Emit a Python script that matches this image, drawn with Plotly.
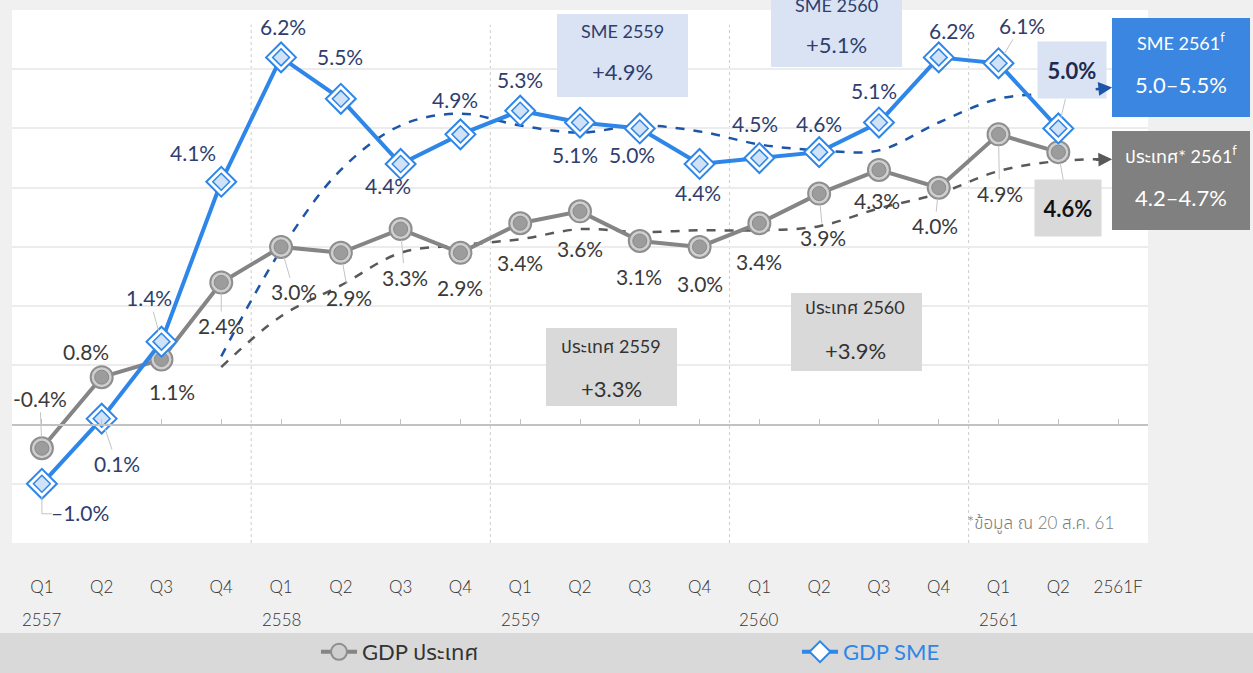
import plotly.graph_objects as go

# ---------------- data ----------------
quarters = ["Q1", "Q2", "Q3", "Q4", "Q1", "Q2", "Q3", "Q4", "Q1", "Q2", "Q3", "Q4",
            "Q1", "Q2", "Q3", "Q4", "Q1", "Q2", "2561F"]
years = ["2557", "2558", "2559", "2560", "2561"]
year_pos = [0, 4, 8, 12, 16]

gdp_sme = [-1.0, 0.1, 1.4, 4.1, 6.2, 5.5, 4.4, 4.9, 5.3, 5.1, 5.0, 4.4,
           4.5, 4.6, 5.1, 6.2, 6.1, 5.0]
gdp_country = [-0.4, 0.8, 1.1, 2.4, 3.0, 2.9, 3.3, 2.9, 3.4, 3.6, 3.1, 3.0,
               3.4, 3.9, 4.3, 4.0, 4.9, 4.6]

# trend (4-quarter average) lines, from Q4 2557 to the 2561F arrow tip
trend_x = [3, 4, 5, 6, 7, 8, 9, 10, 11, 12, 13, 14, 15, 16, 17, 17.8]
sme_trend = [1.15, 2.95, 4.3, 5.05, 5.25, 5.05, 4.93, 5.05, 4.95, 4.73, 4.63, 4.63, 5.1, 5.5, 5.6, 5.69]
gdp_trend = [0.97, 1.83, 2.35, 2.9, 3.03, 3.13, 3.3, 3.25, 3.28, 3.28, 3.35, 3.65, 3.9, 4.28, 4.45, 4.48]

sme_labels = ["–1.0%", "0.1%", "1.4%", "4.1%", "6.2%", "5.5%", "4.4%", "4.9%", "5.3%", "5.1%",
              "5.0%", "4.4%", "4.5%", "4.6%", "5.1%", "6.2%", "6.1%", "5.0%"]
gdp_labels = ["-0.4%", "0.8%", "1.1%", "2.4%", "3.0%", "2.9%", "3.3%", "2.9%", "3.4%", "3.6%",
              "3.1%", "3.0%", "3.4%", "3.9%", "4.3%", "4.0%", "4.9%", "4.6%"]

# ---------------- style ----------------
FONT = "Lato, 'Noto Sans Thai', 'Noto Sans', sans-serif"
BLUE = "#2e86e8"
NAVY = "#2f3e6e"
GRAY = "#858585"
TXT = "#3a3a3a"

W, H = 1253, 673
L, R, T, B = 12, 105, 10, 130
PW, PH = W - L - R, H - T - B


def px(xp):
    return (xp - L) / PW


def py(yp):
    return (H - B - yp) / PH


fig = go.Figure()
xi = list(range(len(gdp_sme)))

# trends
fig.add_trace(go.Scatter(x=trend_x, y=gdp_trend, mode="lines", showlegend=False, hoverinfo="skip",
                         line=dict(color="#595959", width=2.5, dash="dash", shape="spline")))
fig.add_trace(go.Scatter(x=trend_x, y=sme_trend, mode="lines", showlegend=False, hoverinfo="skip",
                         line=dict(color="#1d55a8", width=2.5, dash="dash", shape="spline")))

# GDP country
fig.add_trace(go.Scatter(x=xi, y=gdp_country, mode="lines+markers", name="GDP ประเทศ",
                         legend="legend",
                         line=dict(color=GRAY, width=4),
                         marker=dict(symbol="circle", size=22, color="#cfcfcf",
                                     line=dict(color="#8e8e8e", width=2))))
fig.add_trace(go.Scatter(x=xi, y=gdp_country, mode="markers", showlegend=False, hoverinfo="skip",
                         marker=dict(symbol="circle", size=14, color="#9c9c9c",
                                     line=dict(color="#8a8a8a", width=1))))
# GDP SME
fig.add_trace(go.Scatter(x=xi, y=gdp_sme, mode="lines+markers", name="GDP SME",
                         legend="legend2",
                         line=dict(color=BLUE, width=4),
                         marker=dict(symbol="diamond", size=23, color="white",
                                     line=dict(color=BLUE, width=2))))
fig.add_trace(go.Scatter(x=xi, y=gdp_sme, mode="markers", showlegend=False, hoverinfo="skip",
                         marker=dict(symbol="diamond", size=13, color="#cfe2f8",
                                     line=dict(color=BLUE, width=1.5))))
# dummy trace for the zero axis
fig.add_trace(go.Scatter(x=[0], y=[None], xaxis="x2", showlegend=False, hoverinfo="skip"))

ann = []
shapes = []
LBL = 21
LEAD = "#c4c4c4"

# point labels: (dx, dy) pixel offsets, dy positive = up; leader flag
sme_off = [(38, -29, 0), (15, -45, 1), (-12, 44, 1), (-28, 29, 0), (2, 31, 0), (-1, 42, 0),
           (-13, -22, 0), (-5, 35, 0), (0, 31, 0), (-5, -32, 0), (-8, -26, 0), (-2, -29, 0),
           (-4, 35, 0), (0, 29, 0), (-5, 32, 0), (13, 27, 0), (23, 38, 1)]
gdp_off = [(-2, 50, 1), (-16, 26, 0), (11, -32, 0), (0, -43, 1), (13, -45, 1), (8, -45, 1),
           (4, -48, 1), (0, -35, 0), (0, -39, 0), (0, -37, 0), (-1, -36, 0), (0, -37, 0),
           (0, -38, 0), (4, -44, 1), (-2, -31, 0), (-4, -38, 1), (1, -59, 1)]


def add_label(i, v, text, off, color):
    dx, dy, lead = off
    f = dict(size=LBL, color=color, family=FONT)
    if lead:
        ann.append(dict(x=i, y=v, xref="x", yref="y", text=text, showarrow=True,
                        ax=dx, ay=-dy, arrowhead=0, arrowwidth=1, arrowcolor=LEAD,
                        standoff=11, font=f))
    else:
        ann.append(dict(x=i, y=v, xref="x", yref="y", text=text, showarrow=False,
                        xanchor="center", yanchor="middle", xshift=dx, yshift=dy, font=f))


for i in range(len(sme_off)):
    add_label(i, gdp_sme[i], sme_labels[i], sme_off[i], NAVY)
for i in range(len(gdp_off)):
    add_label(i, gdp_country[i], gdp_labels[i], gdp_off[i], TXT)

# L-shaped leader of the first SME label
for sx0, sx1, sy0, sy1 in [(0, 0, -12, -30), (0, 10, -30, -30)]:
    shapes.append(dict(type="line", xref="x", yref="y", xsizemode="pixel", ysizemode="pixel",
                       xanchor=0, yanchor=gdp_sme[0], x0=sx0, x1=sx1, y0=sy0, y1=sy1,
                       line=dict(color=LEAD, width=1), layer="above"))

# highlighted last values (boxes)
ann.append(dict(x=17, y=gdp_sme[17], xref="x", yref="y", text="<b>" + sme_labels[17] + "</b>",
                showarrow=True, ax=14, ay=-58, arrowhead=0, arrowwidth=1, arrowcolor=LEAD,
                standoff=11, bgcolor="#dae3f3", width=68, height=56, borderpad=0,
                font=dict(size=22, color="#1f2a50", family=FONT)))
ann.append(dict(x=17, y=gdp_country[17], xref="x", yref="y", text="<b>" + gdp_labels[17] + "</b>",
                showarrow=True, ax=10, ay=56, arrowhead=0, arrowwidth=1, arrowcolor=LEAD,
                standoff=11, bgcolor="#d9d9d9", width=66, height=56, borderpad=0,
                font=dict(size=22, color="#111111", family=FONT)))

# arrow heads for the trend lines
ann.append(dict(x=17.9, y=sme_trend[-1], ax=17.6, ay=sme_trend[-1] - 0.03, xref="x", yref="y",
                axref="x", ayref="y", text="", showarrow=True, arrowhead=2, arrowsize=1.1,
                arrowwidth=2.5, arrowcolor="#1d55a8"))
ann.append(dict(x=17.9, y=gdp_trend[-1], ax=17.6, ay=gdp_trend[-1] - 0.01, xref="x", yref="y",
                axref="x", ayref="y", text="", showarrow=True, arrowhead=2, arrowsize=1.1,
                arrowwidth=2.5, arrowcolor="#595959"))

# summary boxes: (x0, y0, x1, y1, fill, line1, line2, center x, y line1, y line2, text color)
boxes = [
    (557, 14, 688, 97, "#dae3f3", "SME 2559", "+4.9%", 622, 31, 71, NAVY),
    (771, -15, 902, 67, "#dae3f3", "SME 2560", "+5.1%", 836, 5, 45, NAVY),
    (546, 328, 677, 406, "#d9d9d9", "ประเทศ 2559", "+3.3%", 611, 346, 388, "#333333"),
    (791, 293, 922, 371, "#d9d9d9", "ประเทศ 2560", "+3.9%", 855, 307, 350, "#333333"),
    (1112, 18, 1250, 117, "#3a86e0", "SME 2561<sup>f</sup>", "5.0–5.5%", 1181, 42, 85, "white"),
    (1112, 131, 1250, 230, "#808080", "ประเทศ* 2561<sup>f</sup>", "4.2–4.7%", 1181, 155, 198, "white"),
]
for x0, y0, x1, y1, fill, t1, t2, cx, ty1, ty2, tc in boxes:
    shapes.append(dict(type="rect", xref="paper", yref="paper", x0=px(x0), x1=px(x1),
                       y0=py(y1), y1=py(y0), fillcolor=fill, line=dict(width=0), layer="above"))
    ann.append(dict(x=px(cx), y=py(ty1), xref="paper", yref="paper", text=t1, showarrow=False,
                    xanchor="center", yanchor="middle",
                    font=dict(size=18, color=tc, family=FONT)))
    ann.append(dict(x=px(cx), y=py(ty2), xref="paper", yref="paper", text=t2, showarrow=False,
                    xanchor="center", yanchor="middle",
                    font=dict(size=22, color=tc, family=FONT)))

# year labels
for yr, p in zip(years, year_pos):
    ann.append(dict(x=p, y=py(619), xref="x", yref="paper", text=yr, showarrow=False,
                    xanchor="center", yanchor="middle",
                    font=dict(size=17, color="#333333", family=FONT, weight=300)))

# footnote
ann.append(dict(x=px(1040), y=py(523), xref="paper", yref="paper", text="*ข้อมูล ณ 20 ส.ค. 61",
                showarrow=False, xanchor="center", yanchor="middle",
                font=dict(size=17, color="#7a7a7a", family=FONT, weight=300)))

# year separators
for xs in [3.5, 7.5, 11.5, 15.5]:
    shapes.append(dict(type="line", xref="x", yref="y", x0=xs, x1=xs, y0=-2, y1=6.75,
                       line=dict(color="#cccccc", width=1, dash="dot"), layer="below"))

# legend band
shapes.append(dict(type="rect", xref="paper", yref="paper", x0=px(0), x1=px(W), y0=py(H), y1=py(633),
                   fillcolor="#d9d9d9", line=dict(width=0), layer="below"))

fig.update_layout(
    width=W, height=H,
    margin=dict(l=L, r=R, t=T, b=B, autoexpand=False),
    paper_bgcolor="#f0f0f0", plot_bgcolor="white",
    font=dict(family=FONT, color="#333333"),
    xaxis=dict(range=[-0.5, 18.5], tickvals=list(range(len(quarters))), ticktext=quarters,
               showgrid=False, zeroline=False, showline=False, ticks="outside", ticklen=29,
               tickcolor="rgba(0,0,0,0)",
               tickfont=dict(size=17, color="#333333", family=FONT, weight=300),
               fixedrange=True),
    xaxis2=dict(range=[-0.5, 18.5], overlaying="x", anchor="free", position=2 / 9, side="bottom",
                showline=True, linecolor="#c2c2c2", linewidth=2, ticks="inside", ticklen=5,
                tickcolor="#c2c2c2", tickwidth=1, tickvals=list(range(19)) + [18.5],
                showticklabels=False, showgrid=False, zeroline=False),
    yaxis=dict(range=[-2, 7], dtick=1, showticklabels=False, showgrid=True, gridcolor="#ececec",
               gridwidth=1.5, zeroline=False, showline=False),
    legend=dict(orientation="h", x=px(316), xanchor="left", y=py(652), yanchor="middle",
                bgcolor="rgba(0,0,0,0)", itemwidth=36,
                font=dict(size=22, color="#333333", family=FONT)),
    legend2=dict(orientation="h", x=px(797), xanchor="left", y=py(652), yanchor="middle",
                 bgcolor="rgba(0,0,0,0)", itemwidth=36,
                 font=dict(size=22, color=BLUE, family=FONT)),
    shapes=shapes,
    annotations=ann,
    showlegend=True,
)

fig.write_html("out.html", config={"displayModeBar": False},
               post_script="document.body.style.margin='0px';")
